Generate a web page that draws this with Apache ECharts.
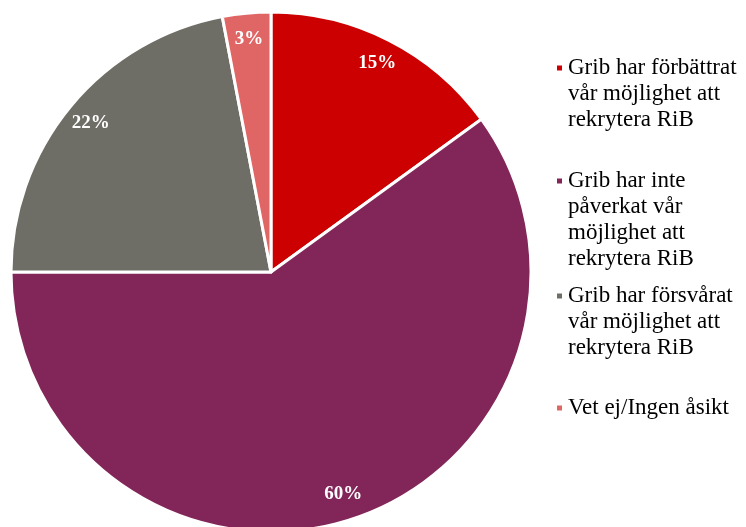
<!DOCTYPE html>
<html>
	<head>
		<meta charset="UTF-8">
		<title></title>
		<script type="text/javascript" src="https://cdn.jsdelivr.net/npm/echarts@6/dist/echarts.min.js"></script>
	</head>
	<body style="margin:0;background:#fff;">
		<div id="main" style="width: 746px;height: 527px;"></div>
		<script type="text/javascript">
var categories = [
    'Grib har förbättrat\nvår möjlighet att\nrekrytera RiB',
    'Grib har inte\npåverkat vår\nmöjlighet att\nrekrytera RiB',
    'Grib har försvårat\nvår möjlighet att\nrekrytera RiB',
    'Vet ej/Ingen åsikt'
];
var values = [15, 60, 22, 3];
var colors = ['#CC0000', '#822659', '#6E6E66', '#E06666'];

var myChart = echarts.init(document.getElementById('main'));

var data = [];
for (var i = 0; i < categories.length; i++) {
    data.push({name: categories[i], value: values[i], itemStyle: {color: colors[i]}});
}

// one legend per item, Excel spaces them unevenly.
// legend centres the text on the icon, so pad with empty lines on top
// to get the icon beside the first line
var iconCenters = [68, 181, 296, 408];
var legends = [];
for (var j = 0; j < categories.length; j++) {
    var lines = categories[j].split('\n').length;
    legends.push({
        data: [categories[j]],
        left: 555,
        top: iconCenters[j] - (lines - 1) * 26 - 13,
        padding: 0,
        icon: 'rect',
        itemWidth: 7,
        itemHeight: 7,
        selectedMode: false,
        formatter: function (name) {
            var n = name.split('\n').length;
            return new Array(n).join(' \n') + name;
        },
        textStyle: {
            fontFamily: 'Liberation Serif',
            fontSize: 23,
            lineHeight: 26,
            color: '#000'
        }
    });
}

var labelStyle = {
    show: true,
    position: 'inside',
    formatter: '{d}%',
    color: '#fff',
    fontFamily: 'Liberation Serif',
    fontWeight: 'bold',
    fontSize: 19
};

myChart.setOption({
    animation: false,
    legend: legends,
    series: [{
        type: 'pie',
        center: [271, 272],
        radius: 260,
        startAngle: 90,
        clockwise: true,
        label: {show: false},
        labelLine: {show: false},
        itemStyle: {borderColor: '#fff', borderWidth: 3},
        emphasis: {disabled: true},
        data: data
    }, {
        // transparent ring only to place the labels near the rim
        type: 'pie',
        center: [271, 272],
        radius: [196, 266],
        startAngle: 90,
        clockwise: true,
        silent: true,
        label: labelStyle,
        labelLine: {show: false},
        itemStyle: {color: 'rgba(0,0,0,0)', borderWidth: 0},
        emphasis: {disabled: true},
        data: values.map(function (v, k) { return {name: categories[k], value: v}; })
    }]
});
		</script>
	</body>
</html>
